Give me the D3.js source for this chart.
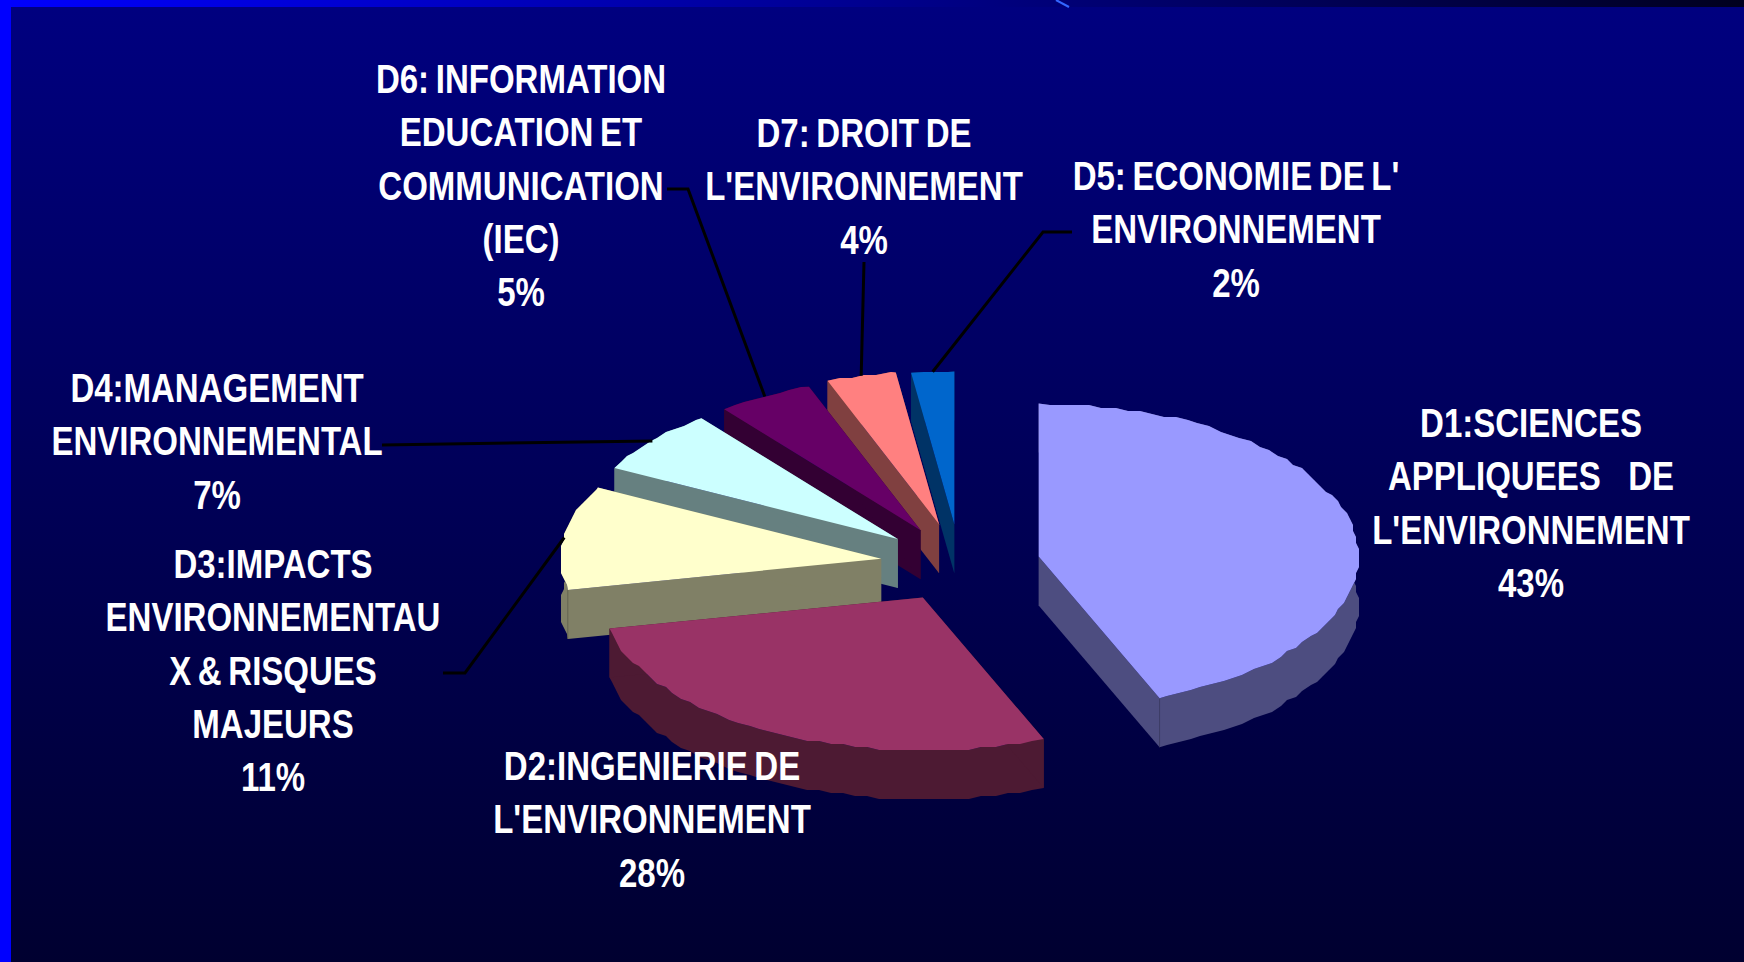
<!DOCTYPE html>
<html><head><meta charset="utf-8">
<script src="https://cdn.jsdelivr.net/npm/d3@7"></script>
<style>html,body{margin:0;padding:0;background:#000050;overflow:hidden}svg{display:block}
text{font-family:"Liberation Sans",Arial,sans-serif;font-weight:bold;fill:#fff;white-space:pre}</style>
</head><body><svg id="c" width="1744" height="962"></svg>
<script>
// ---- data ----
const sliceIds   = ["D1","D2","D3","D4","D6","D7","D5"];
const sliceShare = [43,28,11,7,5,4,2];
const explodePx  = [79,50,79,67,52,45,40];
const topColors  = ["#9999FF","#993366","#FFFFCC","#CCFFFF","#660066","#FF8080","#0066CC"];
const sideColors = ["#4D4D80","#4D1A33","#808066","#668080","#330033","#804040","#003366"];
const labelD1 = ["D1:SCIENCES","APPLIQUEES   DE","L'ENVIRONNEMENT"];
const labelD2 = ["D2:INGENIERIE DE","L'ENVIRONNEMENT"];
const labelD3 = ["D3:IMPACTS","ENVIRONNEMENTAU","X & RISQUES","MAJEURS"];
const labelD4 = ["D4:MANAGEMENT","ENVIRONNEMENTAL"];
const labelD6 = ["D6: INFORMATION","EDUCATION ET","COMMUNICATION","(IEC)"];
const labelD7 = ["D7: DROIT DE","L'ENVIRONNEMENT"];
const labelD5 = ["D5: ECONOMIE DE L'","ENVIRONNEMENT"];
const labels = [labelD1,labelD2,labelD3,labelD4,labelD6,labelD7,labelD5];

// ---- layout ----
const W=1744,H=962,cx=960,cy=564,rx=320,ry=153,depth=49;
const fontSize=40,xStretch=0.825,lineGap=53.3,capShift=14;
const labelAnchor = [[1531,423],[652,766],[273,564],[217,388],[521,79],[864,133],[1236,176]]; // centre x, first-line centre y
const leaderStart = [null,null,[443,673,465,673],[382,445],[667,189,688,189],[864,262],[1072,232,1043,232]];

const svg=d3.select("#c");
const defs=svg.append("defs");
const bg=defs.append("linearGradient").attr("id","bg").attr("x1",0).attr("y1",0).attr("x2",0).attr("y2",1);
bg.append("stop").attr("offset",0).attr("stop-color","#000080");
bg.append("stop").attr("offset",1).attr("stop-color","#000030");
const tb=defs.append("linearGradient").attr("id","tb").attr("x1",0).attr("y1",0).attr("x2",1).attr("y2",0);
tb.append("stop").attr("offset",0).attr("stop-color","#0000FF");
tb.append("stop").attr("offset",1).attr("stop-color","#00001E");
svg.append("rect").attr("width",W).attr("height",H).attr("fill","url(#bg)");
svg.append("rect").attr("width",W).attr("height",7).attr("fill","url(#tb)");
svg.append("rect").attr("width",11).attr("height",H).attr("fill","#0000FF");
svg.append("line").attr("x1",1056).attr("y1",0).attr("x2",1069).attr("y2",7).attr("stroke","#3366FF").attr("stroke-width",2);

// the 3-D view pushes the slice boundaries slightly away from their true angles
const apparent=d3.scaleLinear().domain([0,155,296,338.4,353,360]).range([0,158,298.5,339.6,352.4,360]);
const rad=d=>d*Math.PI/180;
const pie=d3.pie().sort(null).startAngle(0).endAngle(2*Math.PI)(sliceShare);
const line=d3.line();
const slices=pie.map((p,i)=>{
  const a0=apparent(p.startAngle*180/Math.PI),a1=apparent(p.endAngle*180/Math.PI),m=(a0+a1)/2;
  const mx=Math.sin(rad(m))*rx,my=-Math.cos(rad(m))*ry,n=Math.hypot(mx,my);
  const ax=cx+mx/n*explodePx[i],ay=cy+my/n*explodePx[i];
  const on=t=>[ax+Math.sin(rad(t))*rx,ay-Math.cos(rad(t))*ry];
  const rim=[on(a0)];
  for(let t=a0+2.3;t<a1;t+=2.3){const q=on(t);rim.push([Math.round(q[0]/3)*3,Math.round(q[1]/3)*3]);}
  rim.push(on(a1));
  return {i,a0,a1,m,apex:[ax,ay],rim,mid:on(m)};
});
const down=pts=>pts.map(q=>[q[0],q[1]+depth]);
// back-to-front painting
const order=[6,5,4,3,2,1,0];
const g=svg.selectAll("g.slice").data(order.map(k=>slices[k])).join("g").attr("class","slice");
g.append("path").attr("fill",d=>sideColors[d.i]).attr("d",d=>line(d.rim.concat(down(d.rim).reverse()))+"Z");
g.append("path").attr("fill",d=>sideColors[d.i]).attr("d",d=>{const p=[d.apex,d.rim[0]];return line(p.concat(down(p).reverse()))+"Z";});
g.append("path").attr("fill",d=>sideColors[d.i]).attr("d",d=>{const p=[d.apex,d.rim[d.rim.length-1]];return line(p.concat(down(p).reverse()))+"Z";});
g.filter(d=>d.i===0||d.i===2).append("path").attr("fill","none").attr("stroke",d=>d3.color(sideColors[d.i]).darker(0.6)).attr("stroke-width",1)
 .attr("d",d=>{const q=d.i===0?d.rim[d.rim.length-1]:d.rim[0];return line([q,[q[0],q[1]+depth]]);});
g.append("path").attr("fill",d=>topColors[d.i]).attr("d",d=>line([d.apex].concat(d.rim))+"Z");

// leader lines
svg.selectAll("path.leader").data(slices.filter(d=>leaderStart[d.i])).join("path").attr("class","leader")
 .attr("fill","none").attr("stroke","#000").attr("stroke-width",3)
 .attr("d",d=>{const s=leaderStart[d.i],p=[];for(let k=0;k<s.length;k+=2)p.push([s[k],s[k+1]]);p.push(d.mid);return line(p);});

// labels
const lbl=svg.selectAll("g.label").data(slices).join("g").attr("class","label");
lbl.each(function(d){
  const a=labelAnchor[d.i];
  const rows=labels[d.i].concat([sliceShare[d.i]+"%"]);
  d3.select(this).selectAll("text").data(rows).join("text")
   .attr("transform",(t,k)=>`translate(${a[0]},${a[1]+k*lineGap+capShift}) scale(${xStretch},1)`)
   .attr("text-anchor","middle").attr("font-size",fontSize)
   .attr("word-spacing",t=>t.includes("   ")?0:-3).text(t=>t);
});
</script></body></html>
